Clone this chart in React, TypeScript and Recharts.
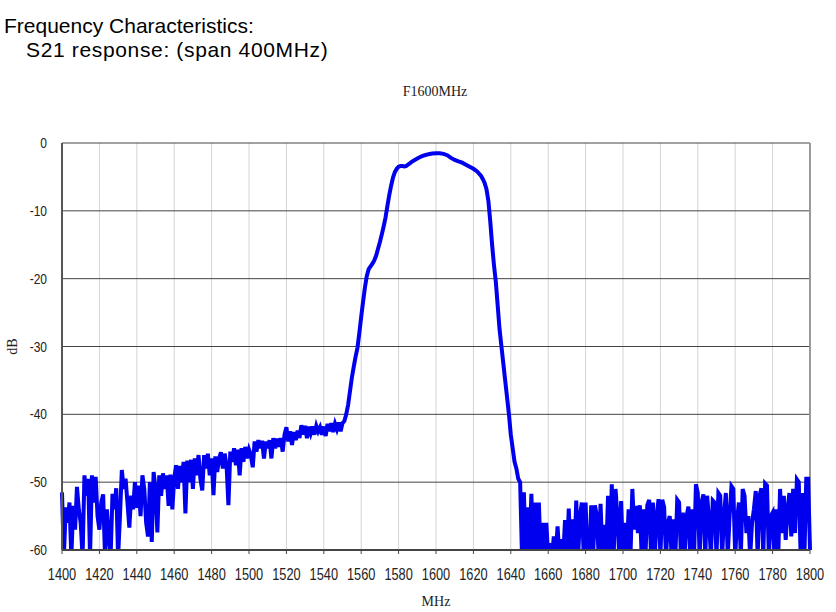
import { LineChart, Line, XAxis, YAxis, CartesianGrid, ReferenceLine } from "recharts";

// stopband below the filter, 1 MHz steps from 1400 MHz
const lowStart = 1400;
const lowBand = [
  -51.5, -61, -53.7, -56, -53, -61, -53.5, -57, -50.7, -54,
  -56, -61, -49, -52, -49.5, -61, -49, -53, -49.2, -55,
  -57, -53, -51.8, -61, -54, -58, -61, -51.7, -54, -50.9,
  -61, -55, -48.2, -51, -49.5, -53, -56.7, -52, -54, -50,
  -53.8, -50.5, -55, -49, -51, -56, -58, -50, -58.8, -48.5,
  -51, -57.4, -49, -52, -48.7, -51, -49, -53.5, -48.9, -54,
  -49.5, -47.5, -51, -47.6, -50, -47, -54.6, -46.8, -50, -46.7,
  -51, -46.5, -49, -46, -49.5, -51.2, -46, -48, -45.8, -49,
  -46.5, -51.9, -46.2, -48.5, -46.5, -45.6, -48, -45.8, -47.5, -53.4,
  -45.5, -47, -45, -47.5, -45.2, -49, -45, -47, -44.8, -46.5,
  -45.2, -46, -47.8, -44, -45.5, -43.8, -45, -43.9, -46.5, -44,
  -45, -43.8, -46.5, -43.5, -45, -43.6, -44.8, -43.5, -45.5, -43,
  -41.9, -44, -42.5, -44.5, -42.6, -43.8, -42.4, -43.5, -41.6, -43,
  -41.7, -43.5, -41.8, -42.8, -41.8, -43, -41.7, -42.5, -41.9, -43,
  -41.8, -43.2, -41.4, -42.5, -41.3, -42.6, -41.4, -42.2, -41.2, -42.5,
  -41.3,
];

// passband
const passFreq = [
  1551, 1552, 1553, 1554, 1555, 1556, 1557, 1558, 1559, 1560,
  1561, 1562, 1563, 1564, 1565, 1566, 1567, 1568, 1569, 1570,
  1571, 1572, 1573, 1574, 1575, 1576, 1577, 1578, 1579, 1580,
  1581, 1582, 1583, 1584, 1585, 1586, 1587, 1588, 1590, 1592,
  1594, 1596, 1598, 1600, 1602, 1604, 1606, 1608, 1610, 1612,
  1614, 1616, 1618, 1620, 1622, 1624, 1625, 1626, 1627, 1628,
  1629, 1630, 1631, 1632, 1633, 1634, 1635, 1636, 1637, 1638,
  1639, 1640, 1641, 1642, 1643, 1644, 1645,
];
const passDb = [
  -41, -40, -38.6, -36.6, -34.6, -33, -31.5, -30.2, -28, -25.6,
  -23.4, -21.3, -19.6, -18.6, -18.2, -17.8, -17.3, -16.6, -15.6, -14.6,
  -13.5, -12.3, -11, -9.3, -7.7, -6.3, -5.1, -4.3, -3.8, -3.5,
  -3.4, -3.4, -3.45, -3.4, -3.2, -3, -2.8, -2.6, -2.3, -2,
  -1.8, -1.65, -1.55, -1.5, -1.5, -1.6, -1.8, -2.2, -2.5, -2.7,
  -2.9, -3.2, -3.5, -3.8, -4.2, -4.8, -5.3, -5.9, -6.8, -8.5,
  -11.5, -15, -18, -20.5, -24, -27.5, -30, -32.5, -35, -37.5,
  -40, -43, -45, -47, -48, -49.5, -50,
];

// stopband above the filter, 1 MHz steps from 1646 MHz
const highStart = 1646;
const highBand = [
  -61, -51.5, -61, -53.7, -61, -51.7, -61, -53, -61, -53,
  -61, -56, -61, -56, -61, -59, -61, -58, -61, -56.5,
  -61, -58.4, -61, -55.6, -61, -53.9, -61, -55.5, -61, -52.7,
  -61, -55, -53, -61, -53, -61, -62, -53.4, -61, -53.4,
  -55, -61, -53.2, -61, -56.3, -61, -52, -61, -50.3, -61,
  -51, -55, -61, -52.8, -61, -56, -61, -54, -61, -51,
  -57, -53.5, -57.5, -53.4, -61, -54, -61, -53.4, -52.6, -61,
  -53, -61, -55, -52.5, -61, -52.6, -53.7, -61, -56, -55,
  -61, -55.5, -61, -52.6, -53, -61, -54.5, -61, -55, -53.6,
  -61, -54, -61, -50.3, -51.6, -61, -53, -51.8, -61, -52,
  -55.5, -61, -52.7, -53, -61, -51.6, -52, -61, -55, -51.6,
  -61, -55, -50.6, -51, -61, -55.5, -53, -61, -51, -52,
  -57.5, -55, -61, -56, -54, -51.3, -61, -52, -50.9, -61,
  -50.2, -50.5, -61, -55, -54.5, -61, -54, -61, -51, -57.5,
  -52, -58.5, -54, -51.6, -58, -51, -57.5, -49.6, -50, -61,
  -51.6, -61, -49.5, -49.5, -60,
];

const xTicks = [
  1400, 1420, 1440, 1460, 1480, 1500, 1520, 1540, 1560, 1580, 1600,
  1620, 1640, 1660, 1680, 1700, 1720, 1740, 1760, 1780, 1800,
];
const yTicks = [0, -10, -20, -30, -40, -50, -60];

const data = [
  ...lowBand.map((v, i) => ({ f: lowStart + i, db: v })),
  ...passFreq.map((f, i) => ({ f, db: passDb[i] })),
  ...highBand.map((v, i) => ({ f: highStart + i, db: v })),
];

const sans = "'Liberation Sans', Arial, sans-serif";
const serif = "'Liberation Serif', 'Times New Roman', serif";

// narrow, tall digits like the original plot software
function XTick({ x, y, payload }: any) {
  return (
    <g transform={`translate(${x},${y})`}>
      <text transform="scale(0.8,1)" textAnchor="middle" dy={12} fontSize={16} fontFamily={sans} fill="#222">
        {payload.value}
      </text>
    </g>
  );
}

function YTick({ x, y, payload }: any) {
  return (
    <g transform={`translate(${x},${y})`}>
      <text transform="scale(0.8,1)" textAnchor="end" dy={5} fontSize={15} fontFamily={sans} fill="#222">
        {payload.value}
      </text>
    </g>
  );
}

export default function App() {
  return (
    <div style={{ position: "absolute", left: 0, top: 0, width: 836, height: 612, background: "#fff" }}>
      <div style={{ position: "absolute", left: 4, top: 14, fontFamily: sans, fontSize: 21, color: "#000", whiteSpace: "nowrap" }}>
        Frequency Characteristics:
      </div>
      <div style={{ position: "absolute", left: 26, top: 38, fontFamily: sans, fontSize: 21, letterSpacing: 0.65, color: "#000", whiteSpace: "nowrap" }}>
        S21 response: (span 400MHz)
      </div>
      <div style={{ position: "absolute", left: 335, width: 200, top: 84, textAlign: "center", fontFamily: serif, fontSize: 14, color: "#222" }}>
        F1600MHz
      </div>
      <LineChart
        width={836}
        height={612}
        data={data}
        margin={{ top: 143, right: 26, bottom: 6, left: 0 }}
      >
        <CartesianGrid horizontal={false} vertical={true} stroke="#d4d4d4" />
        <CartesianGrid horizontal={true} vertical={false} stroke="#444" />
        <XAxis
          dataKey="f"
          type="number"
          domain={[1400, 1800]}
          ticks={xTicks}
          interval={0}
          height={56}
          tick={<XTick />}
          tickSize={4}
          tickMargin={14}
          tickLine={{ stroke: "#444" }}
          axisLine={{ stroke: "#444", strokeWidth: 2 }}
          label={{ value: "MHz", position: "insideBottom", offset: 0, style: { fontFamily: serif, fontSize: 14, fill: "#222" } }}
        />
        <YAxis
          type="number"
          domain={[-60, 0]}
          ticks={yTicks}
          allowDataOverflow
          width={62}
          tick={<YTick />}
          tickLine={false}
          tickSize={0}
          tickMargin={15}
          axisLine={{ stroke: "#555", strokeWidth: 2 }}
          label={{ value: "dB", angle: -90, position: "insideLeft", offset: 12, style: { fontFamily: serif, fontSize: 14, fill: "#222", textAnchor: "middle" } }}
        />
        <ReferenceLine x={1800} stroke="#999" strokeWidth={2} />
        <Line
          type="linear"
          dataKey="db"
          stroke="#0000ee"
          strokeWidth={4}
          dot={false}
          isAnimationActive={false}
        />
      </LineChart>
    </div>
  );
}
